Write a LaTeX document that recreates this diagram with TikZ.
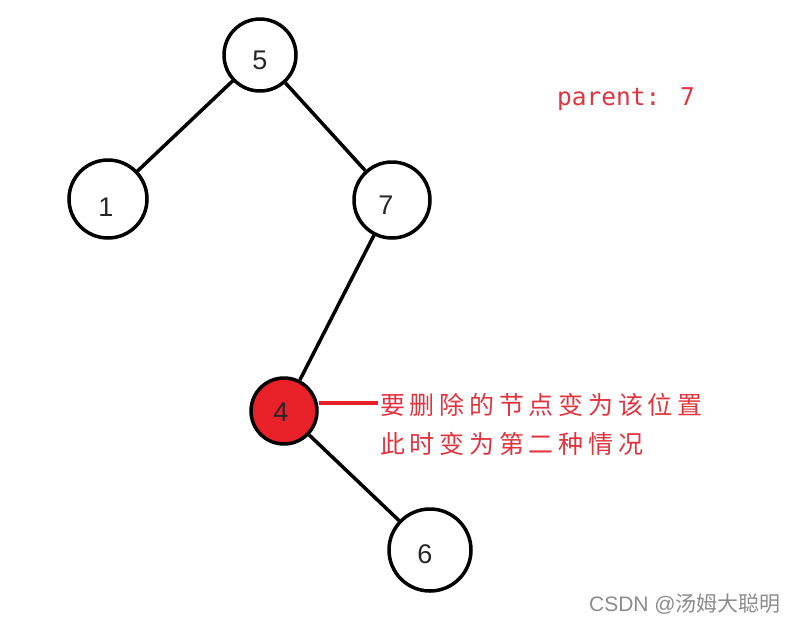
\documentclass[tikz,border=0pt]{standalone}
\usepackage{fontspec}
\setmainfont{Liberation Sans}
\newfontfamily\cjk{Noto Sans CJK SC}
\newfontfamily\cjksp[LetterSpace=19]{Noto Sans CJK SC}
\newfontfamily\monof{DejaVu Sans Mono}
\definecolor{redc}{RGB}{232,32,40}
\definecolor{redt}{RGB}{226,52,62}
\begin{document}
\begin{tikzpicture}[x=1pt,y=-1pt,
  tnode/.style={circle,draw=black,line width=3.5pt,inner sep=0pt},
  digit/.style={inner sep=0pt,font=\fontsize{27}{27}\selectfont,text=black!85},
  edge/.style={line width=3.5pt,black},
  lbl/.style={anchor=west,inner sep=0pt,text=redt,font=\cjksp\fontsize{25}{25}\selectfont}]
\useasboundingbox (0,0) rectangle (795,622);
\node[tnode,minimum size=72pt,label={[digit,yshift=-5pt]center:5}] (n5) at (260,55) {};
\node[tnode,minimum size=78pt,label={[digit,xshift=-2pt,yshift=-8pt]center:1}] (n1) at (108,199) {};
\node[tnode,minimum size=76pt,label={[digit,xshift=-6pt,yshift=-5pt]center:7}] (n7) at (392,200) {};
\node[tnode,minimum size=66pt,fill=redc,label={[digit,xshift=-3pt,yshift=-1pt]center:4}] (n4) at (284,411) {};
\node[tnode,minimum size=82pt,label={[digit,xshift=-5pt,yshift=-4pt]center:6}] (n6) at (430,550) {};
\draw[edge] (n5) -- (n1);
\draw[edge] (n5) -- (n7);
\draw[edge] (n7) -- (n4);
\draw[edge] (n4) -- (n6);
\coordinate (lend) at (378,403);
\draw[line width=3.5pt,redc] (lend -| n4.east) -- (lend);
\node[lbl] (t1) at (380,405) {要删除的节点变为该位置};
\node[lbl] (t2) at (380,444) {此时变为第二种情况};
\node[anchor=west,inner sep=0pt,text=redt,font=\monof\fontsize{24.5}{24}\selectfont] (par) at (557,99) {parent: 7};
\node[anchor=east,inner sep=0pt,text=black!45,font=\fontsize{21}{21}\selectfont] (wm) at (781,604) {CSDN @{\cjk 汤姆大聪明}};
\end{tikzpicture}
\end{document}
